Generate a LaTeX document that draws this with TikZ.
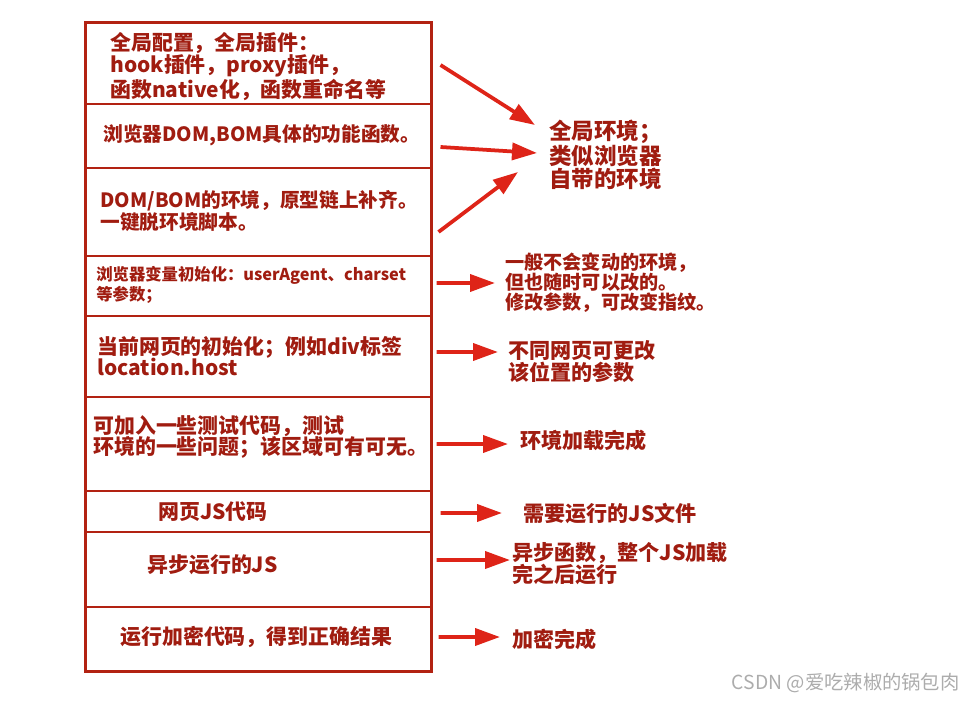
\documentclass[tikz,border=0pt]{standalone}
\usepackage{fontspec}
\setmainfont{Noto Sans CJK SC}
\usetikzlibrary{arrows.meta,positioning}
\definecolor{brick}{RGB}{178,34,18}
\definecolor{rust}{RGB}{160,28,16}
\definecolor{signal}{RGB}{222,36,24}
\tikzset{
  >={Triangle[length=5mm,width=3.4mm]},
  layer/.style={draw=brick,line width=1.1pt,minimum width=69.2mm,minimum height=#1,
    inner sep=0pt,outer sep=0pt},
  layer/.default=12mm,
  note/.style={anchor=west,align=left,inner sep=0pt,text=rust,
    font=\bfseries\fontsize{11.9}{12.4}\selectfont},
  tight note/.style={note,font=\bfseries\fontsize{11.2}{12.6}\selectfont},
  small note/.style={note,font=\bfseries\fontsize{9.3}{9.6}\selectfont},
  side/.style={note,font=\bfseries\fontsize{12}{12.6}\selectfont},
  big side/.style={note,font=\bfseries\fontsize{12.8}{13.2}\selectfont},
  fine side/.style={note,font=\bfseries\fontsize{10.9}{11.4}\selectfont},
  flow/.style={->,draw=signal,line width=0.75mm},
}

\begin{document}
\begin{tikzpicture}[x=0.2mm,y=-0.2mm]
  \useasboundingbox (0,0) rectangle (975,701);
  % stack of layers
  \node[layer=16.2mm] (L1) at (258.5,63.5) {};
  \node[layer=12.8mm,below=0pt of L1] (L2) {};
  \node[layer=17.6mm,below=0pt of L2] (L3) {};
  \node[layer=12mm,below=0pt of L3] (L4) {};
  \node[layer=16.2mm,below=0pt of L4] (L5) {};
  \node[layer=18.8mm,below=0pt of L5] (L6) {};
  \node[layer=8.2mm,below=0pt of L6] (L7) {};
  \node[layer=15mm,below=0pt of L7] (L8) {};
  \node[layer=12.8mm,below=0pt of L8] (L9) {};
  \draw[brick,line width=0.6mm] (L1.north west) rectangle (L9.south east);
  % layer texts
  \node[note] (t1) at (110,66.5) {全局配置，全局插件：\\hook插件，proxy插件，\\函数native化，函数重命名等};
  \node[tight note] (t2) at (103,135) {浏览器DOM,BOM具体的功能函数。};
  \node[tight note] (t3) at (100,211) {DOM/BOM的环境，原型链上补齐。\\一键脱环境脚本。};
  \node[small note] (t4) at (96,285) {浏览器变量初始化：userAgent、charset\\等参数；};
  \node[note] (t5) at (97,356) {当前网页的初始化；例如div标签\\location.host};
  \node[note] (t6) at (93,437) {可加入一些测试代码，测试\\环境的一些问题；该区域可有可无。};
  \node[note] (t7) at (158,512) {网页JS代码};
  \node[note] (t8) at (147,565) {异步运行的JS};
  \node[note] (t9) at (120,637) {运行加密代码，得到正确结果};
  % side labels
  \node[big side] (env) at (549,155) {全局环境；\\类似浏览器\\自带的环境};
  \node[fine side] (fixed) at (505,283) {一般不会变动的环境，\\但也随时可以改的。\\修改参数，可改变指纹。};
  \node[side] (page) at (508,361.5) {不同网页可更改\\该位置的参数};
  \node[side] (loaded) at (520,440) {环境加载完成};
  \node[side] (jsfile) at (523,514) {需要运行的JS文件};
  \node[side] (async) at (512,564) {异步函数，整个JS加载\\完之后运行};
  \node[side] (done) at (512,639) {加密完成};
  % arrows
  \draw[flow] ([shift={(9,1.5)}]L1.east) -- ([shift={(-14,-30)}]env.west);
  \draw[flow] ([shift={(9,11)}]L2.east) -- ([shift={(-12,-2)}]env.west);
  \draw[flow] ([shift={(7,20)}]L3.east) -- ([shift={(-31,17)}]env.west);
  \draw[flow] ([shift={(5,-3)}]L4.east) -- ([shift={(-10,0)}]fixed.west);
  \draw[flow] ([shift={(5,-4.5)}]L5.east) -- ([shift={(-10,-9.5)}]page.west);
  \draw[flow] ([shift={(5,0)}]L6.east) -- ([shift={(-12,4)}]loaded.west);
  \draw[flow] ([shift={(9,1.5)}]L7.east) -- ([shift={(-21,-1)}]jsfile.west);
  \draw[flow] ([shift={(5,-9.5)}]L8.east) -- ([shift={(-2,-4)}]async.west);
  \draw[flow] ([shift={(7,-2)}]L9.east) -- ([shift={(-12,-2)}]done.west);
  \node[anchor=east,inner sep=0pt,text=gray!65,font=\fontsize{11}{12}\selectfont] (mark) at (960,683) {CSDN @爱吃辣椒的锅包肉};
\end{tikzpicture}
\end{document}
